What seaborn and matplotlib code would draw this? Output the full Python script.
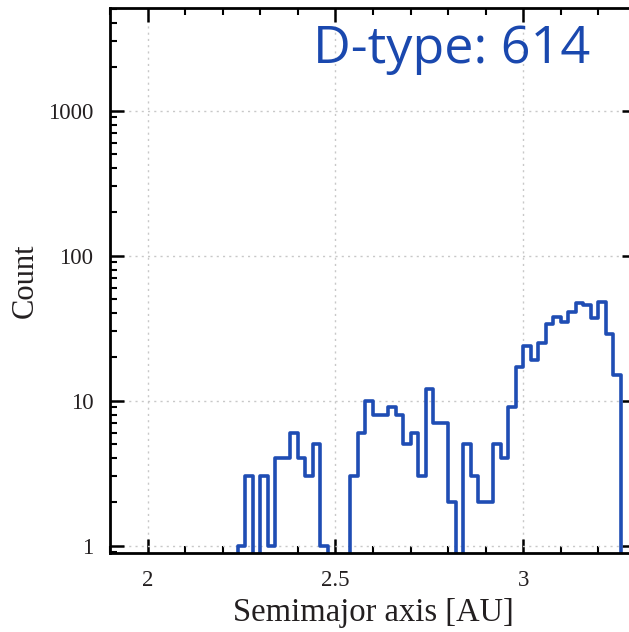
import numpy as np
import pandas as pd
import matplotlib
matplotlib.use("Agg")
import matplotlib.pyplot as plt
from matplotlib.ticker import MultipleLocator, LogLocator, FuncFormatter, NullFormatter
import seaborn as sns

# Histogram of D-type asteroid semimajor axes (0.02 AU bins)
bin_width = 0.02
first_bin = 2.24
counts = [
    1, 3, 0, 3, 1, 4, 4, 6, 4, 3, 5, 1,              # 2.24 - 2.46
    0, 0, 0,                                          # 2.48 - 2.52
    3, 6, 10, 8, 8, 9, 8, 5, 6, 3, 12, 7, 7, 2,       # 2.54 - 2.80
    0,                                                # 2.82
    5, 3, 2, 2, 5, 4, 9, 17, 24, 19, 25, 34, 38, 35,  # 2.84 - 3.10
    41, 47, 46, 37, 48, 29, 15,                       # 3.12 - 3.24
]
x_range = (1.9, 3.3)
y_range = (0.886, 5080)
class_name = "D-type"

line_color = "#1f4db4"
text_color = "#1a48ae"

# Full set of bins over the axis range, empty outside the populated span
n_bins = int(round((x_range[1] - x_range[0]) / bin_width))
centers = x_range[0] + bin_width * (np.arange(n_bins) + 0.5)
weights = np.zeros(n_bins)
start = int(round((first_bin - x_range[0]) / bin_width))
weights[start:start + len(counts)] = counts
df = pd.DataFrame({"a": centers, "n": weights})

sns.set_style("ticks")
plt.rcParams["font.family"] = ["Liberation Serif", "DejaVu Serif"]
plt.rcParams["mathtext.fontset"] = "stix"

fig = plt.figure(figsize=(6.29, 6.32), dpi=100)
ax = fig.add_axes([110 / 629, 78.7 / 632, 526 / 629, 545 / 632])

sns.histplot(data=df, x="a", weights="n", binwidth=bin_width, binrange=x_range,
             element="step", fill=False, color=line_color, linewidth=2.6, ax=ax)

ax.set_yscale("log")
ax.set_xlim(*x_range)
ax.set_ylim(*y_range)

ax.xaxis.set_major_locator(MultipleLocator(0.5))
ax.xaxis.set_minor_locator(MultipleLocator(0.1))
ax.xaxis.set_major_formatter(FuncFormatter(lambda v, p: f"{v:g}"))
ax.yaxis.set_major_locator(LogLocator(base=10, numticks=10))
ax.yaxis.set_minor_locator(LogLocator(base=10, subs=np.arange(2, 10), numticks=20))
ax.yaxis.set_major_formatter(FuncFormatter(lambda v, p: f"{v:g}"))
ax.yaxis.set_minor_formatter(NullFormatter())

ax.tick_params(which="both", direction="in", top=True, right=True,
               colors="black", labelcolor="#231f20", labelsize=16.5)
ax.tick_params(which="major", length=10, width=1.8, pad=12)
ax.tick_params(which="minor", length=5, width=1.5)
for s in ax.spines.values():
    s.set_linewidth(2.0)
    s.set_color("black")

ax.grid(which="major", linestyle=(0, (1.5, 3)), color="#c8c8c8", linewidth=1.0)
ax.set_axisbelow(True)

ax.set_xlabel("Semimajor axis [AU]", fontsize=23.5, color="#231f20", labelpad=5)
ax.set_ylabel("Count", fontsize=22, color="#231f20", labelpad=6)

total = int(sum(counts))
ax.text(0.386, 0.90, f"{class_name}: {total}", transform=ax.transAxes,
        fontsize=37.5, color=text_color, family=["Open Sans", "DejaVu Sans"],
        ha="left", va="baseline")

fig.savefig("out.png", dpi=100)
